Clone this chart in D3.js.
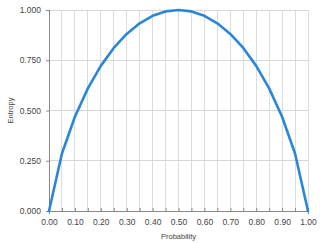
<!DOCTYPE html>
<html>
<head>
<meta charset="utf-8">
<script src="https://cdn.jsdelivr.net/npm/d3@7"></script>
<style>
  body { margin: 0; background: #fff; }
  text { font-family: "Liberation Sans", Arial, sans-serif; }
</style>
</head>
<body>
<div id="chart"></div>
<script>
// Data
var probability = [0, 0.05, 0.10, 0.15, 0.20, 0.25, 0.30, 0.35, 0.40, 0.45, 0.50,
                   0.55, 0.60, 0.65, 0.70, 0.75, 0.80, 0.85, 0.90, 0.95, 1.00];
var entropy = [0, 0.286, 0.469, 0.610, 0.722, 0.811, 0.881, 0.934, 0.971, 0.993, 1.000,
               0.993, 0.971, 0.934, 0.881, 0.811, 0.722, 0.610, 0.469, 0.286, 0];
var xTicks = [0, 0.1, 0.2, 0.3, 0.4, 0.5, 0.6, 0.7, 0.8, 0.9, 1.0];
var yTicks = [0, 0.25, 0.5, 0.75, 1.0];

var svgWidth = 320;
var svgHeight = 243;

var margin = { top: 10, right: 12, bottom: 32, left: 49 };
var width = svgWidth - margin.left - margin.right;
var height = svgHeight - margin.top - margin.bottom;

var svg = d3.select("#chart")
    .append("svg")
    .attr("width", svgWidth)
    .attr("height", svgHeight);

var chartGroup = svg.append("g")
    .attr("transform", `translate(${margin.left}, ${margin.top})`);

var x = d3.scaleLinear().domain([0, 1]).range([0, width]);
var y = d3.scaleLinear().domain([0, 1]).range([height, 0]);

// vertical gridlines every 0.05
chartGroup.append("g")
    .selectAll("line")
    .data(probability.slice(1))
    .enter().append("line")
    .attr("x1", d => x(d)).attr("x2", d => x(d))
    .attr("y1", 0).attr("y2", height)
    .attr("stroke", "#dcdcdc").attr("stroke-width", 1)
    .attr("shape-rendering", "crispEdges");

// horizontal gridlines
chartGroup.append("g")
    .selectAll("line")
    .data(yTicks.slice(1))
    .enter().append("line")
    .attr("x1", 0).attr("x2", width)
    .attr("y1", d => y(d)).attr("y2", d => y(d))
    .attr("stroke", "#d6d6d6").attr("stroke-width", 1)
    .attr("shape-rendering", "crispEdges");

// bottom axis
var bottomAxis = d3.axisBottom(x)
    .tickValues(probability)
    .tickSize(3)
    .tickFormat(d => xTicks.some(t => Math.abs(t - d) < 1e-9) ? d3.format(".2f")(d) : "");
var xAxisG = chartGroup.append("g")
    .attr("transform", `translate(0, ${height})`)
    .call(bottomAxis);
xAxisG.select(".domain").attr("stroke", "#888").attr("shape-rendering", "crispEdges");
xAxisG.selectAll(".tick line").attr("stroke", "#888").attr("transform", "translate(0,-3)");
xAxisG.selectAll("text").attr("fill", "#444").attr("font-size", 8.5).attr("dy", "0.9em");

// left axis
var leftAxis = d3.axisLeft(y)
    .tickValues(yTicks)
    .tickSize(3)
    .tickFormat(d3.format(".3f"));
var yAxisG = chartGroup.append("g").call(leftAxis);
yAxisG.select(".domain").attr("stroke", "#888").attr("shape-rendering", "crispEdges");
yAxisG.selectAll(".tick line").attr("stroke", "#888");
yAxisG.selectAll("text").attr("fill", "#444").attr("font-size", 8.5).attr("x", -8);

// line
var line = d3.line()
    .x((d, i) => x(probability[i]))
    .y(d => y(d));

chartGroup.append("path")
    .datum(entropy)
    .attr("fill", "none")
    .attr("stroke", "#2b86d8")
    .attr("stroke-width", 2.6)
    .attr("stroke-linejoin", "round")
    .attr("stroke-linecap", "round")
    .attr("d", line);

// axis labels
svg.append("text")
    .attr("x", margin.left + width / 2)
    .attr("y", svgHeight - 4)
    .attr("text-anchor", "middle")
    .attr("font-size", 7.5)
    .attr("fill", "#444")
    .text("Probability");

svg.append("text")
    .attr("transform", `translate(13, ${margin.top + height / 2}) rotate(-90)`)
    .attr("text-anchor", "middle")
    .attr("font-size", 7.5)
    .attr("fill", "#444")
    .text("Entropy");
</script>
</body>
</html>
